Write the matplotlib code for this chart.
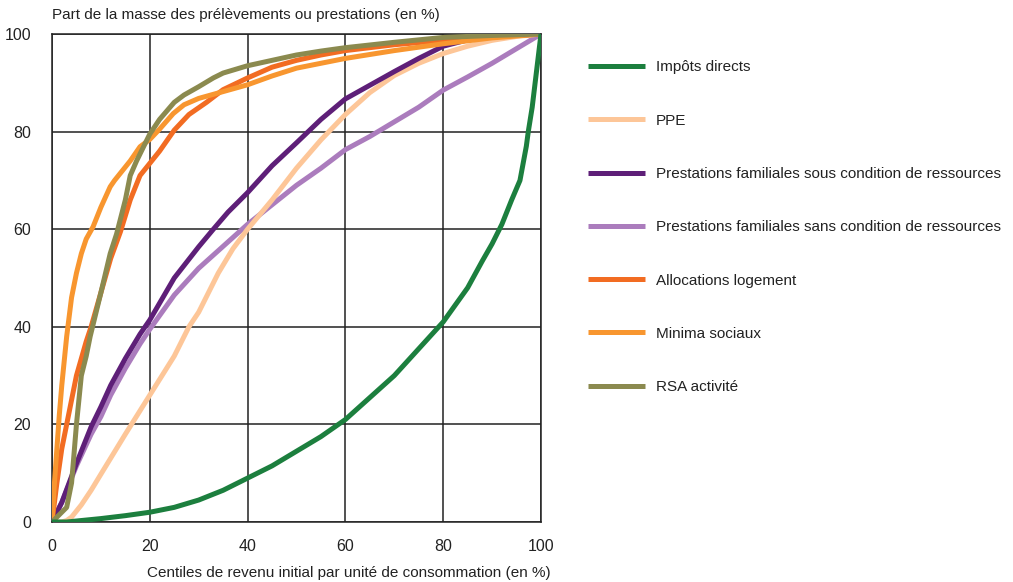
import matplotlib
matplotlib.use('Agg')
import matplotlib.pyplot as plt

plt.rcParams['font.family'] = ['Liberation Sans', 'DejaVu Sans']

# --- data ---
impots_x = [0, 3, 5, 10, 15, 20, 25, 30, 35, 40, 45, 50, 55, 60, 65, 70, 75, 80, 85, 88, 90, 92, 94,
            95.7, 97, 97.4, 98.2, 98.8, 99.4, 100]
impots_y = [0, 0, 0.2, 0.7, 1.3, 2, 3, 4.5, 6.5, 9, 11.5, 14.5, 17.5, 21, 25.5, 30, 35.5, 41, 48, 53.5,
            57, 61, 66, 70, 77, 80, 85, 90, 95, 100]

ppe_x = [0, 2, 3, 4, 6, 8, 10, 15, 20, 25, 28, 30, 34, 37, 40, 45, 50, 55, 60, 65, 70, 75, 80, 85, 90, 95, 100]
ppe_y = [0, 0, 0.3, 1, 3.5, 6.5, 9.8, 18, 26, 34, 40, 43, 51, 56, 60, 66, 72.5, 78.3, 83.5, 88, 91.5,
         94, 96, 97.5, 98.7, 99.5, 100]

pf_sous_x = [0, 2, 5, 8, 10, 12, 15, 18, 20, 25, 30, 33, 36, 40, 45, 50, 55, 60, 65, 70, 75, 80, 85, 90, 100]
pf_sous_y = [0, 4, 12, 19.5, 23.6, 28, 33.5, 38.5, 41.4, 50, 56.4, 60, 63.5, 67.5, 73, 77.7, 82.5, 86.7,
             89.5, 92.3, 95, 97.5, 98.8, 99.5, 100]

pf_sans_x = [0, 2, 5, 8, 10, 12, 15, 18, 20, 25, 30, 35, 40, 45, 50, 55, 60, 65, 70, 75, 80, 85, 90, 95, 100]
pf_sans_y = [0, 4, 11.5, 18, 21.6, 26, 31.5, 36.5, 39.5, 46.5, 52, 56.5, 61, 65, 69, 72.5, 76.3, 79, 82,
             85, 88.5, 91.2, 94, 97, 100]

alloc_x = [0, 1, 2, 3, 5, 7, 8, 10, 12, 14, 16, 18, 20, 22, 25, 28, 31.6, 35, 40, 45, 50, 55, 60, 70, 80, 90, 100]
alloc_y = [0, 8, 15, 20, 30, 37, 40, 47, 54, 59.5, 66, 71, 73.5, 76, 80.3, 83.5, 86, 88.6, 91, 93.2, 94.6,
           95.7, 96.6, 97.8, 98.7, 99.4, 100]

minima_x = [0, 0.5, 1, 1.5, 2, 3, 4, 5, 6, 7, 8.4, 10, 11.9, 12.8, 14, 16, 18, 20, 22, 24.8, 27, 30, 35,
            40, 45, 50, 55, 60, 70, 80, 90, 100]
minima_y = [0, 8, 15, 22, 28, 38, 46, 51, 55, 58, 60.5, 64.5, 68.7, 70, 71.5, 74, 76.9, 78.4, 80.5, 83.7,
            85.5, 86.8, 88.2, 89.6, 91.4, 93, 94, 95, 96.6, 98, 99.2, 100]

rsa_x = [0, 2, 3, 4, 4.4, 5, 6, 7, 7.8, 10, 11.9, 13.2, 15, 16, 17.3, 20, 22, 25, 27, 30, 33, 35, 40, 45,
         50, 55, 60, 70, 80, 90, 100]
rsa_y = [0, 2, 3, 8, 12.7, 20, 30, 34, 38, 47, 55, 59, 66, 71, 74, 79.5, 82.5, 86, 87.5, 89.2, 91, 92,
         93.5, 94.6, 95.7, 96.5, 97.2, 98.3, 99.3, 99.7, 100]

labels = ['Impôts directs', 'PPE',
          'Prestations familiales sous condition de ressources',
          'Prestations familiales sans condition de ressources',
          'Allocations logement', 'Minima sociaux', 'RSA activité']
colors = ['#1c7f3e', '#fdc698', '#5e1f78', '#ab7cbd', '#f26c22', '#f8962f', '#8b8a4f']

series = [(impots_x, impots_y), (ppe_x, ppe_y), (pf_sous_x, pf_sous_y),
          (pf_sans_x, pf_sans_y), (alloc_x, alloc_y), (minima_x, minima_y),
          (rsa_x, rsa_y)]

fig = plt.figure(figsize=(10.13, 5.82), dpi=100)
ax = fig.add_axes([52 / 1013, 60 / 582, 489 / 1013, 488 / 582])

# lighter curves first so the darker ones sit on top
order = [3, 1, 2, 4, 5, 6, 0]
handles = {}
for i in order:
    xs, ys = series[i]
    h, = ax.plot(xs, ys, color=colors[i], lw=3.6, solid_capstyle='butt',
                 solid_joinstyle='round', label=labels[i], zorder=3)
    handles[i] = h

ax.set_xlim(0, 100)
ax.set_ylim(0, 100)
ax.set_xticks(range(0, 101, 20))
ax.set_yticks(range(0, 101, 20))
ax.grid(True, color='#222222', lw=1.1, zorder=1)
for s in ax.spines.values():
    s.set_color('#222222')
    s.set_linewidth(1.1)
ax.tick_params(length=0, labelsize=11.5, colors='#222222')
ax.tick_params(axis='x', pad=12)
ax.tick_params(axis='y', pad=15)

fig.text(52 / 1013, 1 - 15 / 582, 'Part de la masse des prélèvements ou prestations (en %)',
         fontsize=11, color='#222222', va='center', ha='left')
fig.text(551 / 1013, 1 - 573 / 582, 'Centiles de revenu initial par unité de consommation (en %)',
         fontsize=11, color='#222222', va='center', ha='right')

fig.legend([handles[i] for i in range(7)], labels, loc='upper left',
           bbox_to_anchor=(588 / 1013, 1 - 60.5 / 582), frameon=False,
           fontsize=11, handlelength=3.73, handletextpad=0.72,
           labelspacing=2.57, borderpad=0, borderaxespad=0,
           labelcolor='#222222')

fig.savefig('out.png', dpi=100)
